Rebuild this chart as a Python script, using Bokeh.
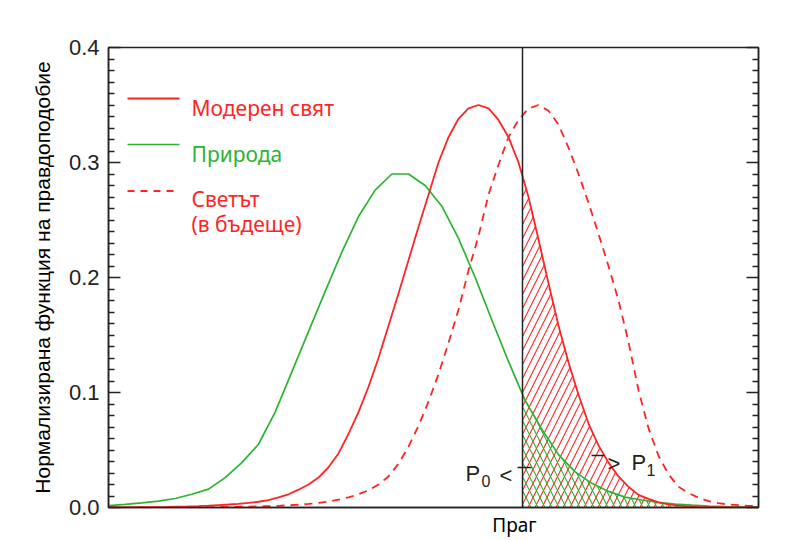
import numpy as np
from bokeh.plotting import figure
from bokeh.models import Range1d, LinearAxis, FixedTicker, Span, PrintfTickFormatter
from bokeh.core.properties import value
from bokeh.embed import file_html
from bokeh.resources import INLINE

# ---------------- data (x in arbitrary units, 0..65) ----------------
threshold = 41.4

modern_x = list(range(66))
modern_y = [0.0000, 0.0001, 0.0001, 0.0002, 0.0003, 0.0004, 0.0005, 0.0007, 0.0009, 0.0012,
            0.0016, 0.0021, 0.0026, 0.0032, 0.0040, 0.0050, 0.0065, 0.0088, 0.0115, 0.0155,
            0.0200, 0.0260, 0.0350, 0.0470, 0.0640, 0.0830, 0.1050, 0.1300, 0.1580, 0.1860,
            0.2150, 0.2440, 0.2720, 0.3000, 0.3220, 0.3380, 0.3470, 0.3500, 0.3470, 0.3370,
            0.3220, 0.3000, 0.2700, 0.2330, 0.1950, 0.1580, 0.1260, 0.0980, 0.0730, 0.0540,
            0.0390, 0.0270, 0.0180, 0.0110, 0.0075, 0.0045, 0.0027, 0.0016, 0.0009, 0.0005,
            0.0003, 0.0002, 0.0001, 0.0001, 0.0000, 0.0000]

future_x = list(range(66))
future_y = [0.0000, 0.0000, 0.0000, 0.0000, 0.0001, 0.0001, 0.0001, 0.0001, 0.0002, 0.0002,
            0.0003, 0.0004, 0.0005, 0.0006, 0.0008, 0.0010, 0.0012, 0.0015, 0.0019, 0.0024,
            0.0031, 0.0040, 0.0052, 0.0068, 0.0088, 0.0115, 0.0150, 0.0200, 0.0270, 0.0380,
            0.0530, 0.0710, 0.0920, 0.1160, 0.1430, 0.1720, 0.2060, 0.2360, 0.2720, 0.2980,
            0.3220, 0.3370, 0.3470, 0.3500, 0.3450, 0.3330, 0.3130, 0.2900, 0.2650, 0.2380,
            0.2100, 0.1800, 0.1440, 0.1020, 0.0690, 0.0450, 0.0290, 0.0180, 0.0125, 0.0085,
            0.0055, 0.0038, 0.0026, 0.0020, 0.0015, 0.0010]

nature_x = [k * 65 / 39 for k in range(40)]
nature_y = [0.0017, 0.0028, 0.0040, 0.0055, 0.0078, 0.0115, 0.0160, 0.0260, 0.0390, 0.0550,
            0.0830, 0.1180, 0.1530, 0.1880, 0.2220, 0.2530, 0.2760, 0.2900, 0.2900, 0.2800,
            0.2620, 0.2340, 0.2000, 0.1630, 0.1270, 0.0930, 0.0680, 0.0460, 0.0310, 0.0210,
            0.0140, 0.0090, 0.0065, 0.0045, 0.0030, 0.0020, 0.0013, 0.0008, 0.0005, 0.0003]

y_ticks = [0.0, 0.1, 0.2, 0.3, 0.4]
y_minor = [round(0.01 * i, 2) for i in range(41) if i % 10]

labels = ["Модерен свят", "Природа", "Светът", "(в бъдеще)"]
y_title = "Нормализирана функция на правдоподобие"
x_tick_label = "Праг"
x_tick_pos = threshold - 0.8

RED = "#ff2424"
GREEN = "#2ab432"
INK = "#222222"

# helpers to place decorations by frame pixel
def ux(px):
    return (px - 108) / 10.0

def uy(py):
    return (507 - py) / 1150.0

p = figure(width=796, height=540, output_backend="svg", toolbar_location=None,
           x_range=Range1d(0, 65), y_range=Range1d(0, 0.4),
           min_border_left=108, min_border_right=38, min_border_top=47, min_border_bottom=33)
p.xgrid.visible = False
p.ygrid.visible = False
p.outline_line_color = INK
p.outline_line_width = 1.5
p.background_fill_color = "white"
p.border_fill_color = "white"

# left axis
ya = p.yaxis[0]
ya.ticker = FixedTicker(ticks=y_ticks, minor_ticks=y_minor)
ya.formatter = PrintfTickFormatter(format="%.1f")
ya.major_tick_in = 12
ya.major_tick_out = 0
ya.minor_tick_in = 6
ya.minor_tick_out = 0
ya.axis_line_color = INK
ya.axis_line_width = 1.5
ya.major_tick_line_color = INK
ya.major_tick_line_width = 1.5
ya.minor_tick_line_color = INK
ya.minor_tick_line_width = 1.5
ya.major_label_standoff = 9
ya.major_label_text_font = "Liberation Sans"
ya.major_label_text_font_size = "22px"
ya.major_label_text_color = INK
ya.axis_label = y_title
ya.axis_label_text_font = "Liberation Sans"
ya.axis_label_text_font_size = "21px"
ya.axis_label_text_font_style = "normal"
ya.axis_label_text_color = "black"
ya.axis_label_standoff = 12

# right axis (ticks only)
ra = LinearAxis(ticker=FixedTicker(ticks=y_ticks, minor_ticks=y_minor),
                major_tick_in=12, major_tick_out=0, minor_tick_in=6, minor_tick_out=0,
                axis_line_color=INK, axis_line_width=1.5,
                major_tick_line_color=INK, major_tick_line_width=1.5,
                minor_tick_line_color=INK, minor_tick_line_width=1.5,
                major_label_text_color=None, major_label_standoff=0)
p.add_layout(ra, "right")

# bottom axis
xa = p.xaxis[0]
xa.ticker = FixedTicker(ticks=[x_tick_pos], minor_ticks=[])
xa.major_label_overrides = {x_tick_pos: x_tick_label}
xa.major_tick_in = 0
xa.major_tick_out = 0
xa.minor_tick_in = 0
xa.minor_tick_out = 0
xa.axis_line_color = INK
xa.axis_line_width = 1.5
xa.major_label_standoff = 4
xa.major_label_text_font = "Noto Sans"
xa.major_label_text_font_size = "19px"
xa.major_label_text_color = "black"

# hatched tails beyond the threshold
mx = np.array(modern_x, dtype=float)
my = np.array(modern_y)
sel = mx > threshold
hx_r = np.concatenate([[threshold], mx[sel]])
hy_r = np.concatenate([[np.interp(threshold, mx, my)], my[sel]])
p.varea(x=hx_r, y1=0, y2=hy_r, fill_color=None, fill_alpha=0,
        hatch_pattern="/", hatch_color=RED, hatch_scale=14, hatch_weight=1.1)

nx = np.array(nature_x)
ny = np.array(nature_y)
sel = nx > threshold
hx_g = np.concatenate([[threshold], nx[sel]])
hy_g = np.concatenate([[np.interp(threshold, nx, ny)], ny[sel]])
p.varea(x=hx_g, y1=0, y2=hy_g, fill_color=None, fill_alpha=0,
        hatch_pattern="\\", hatch_color=GREEN, hatch_scale=14, hatch_weight=1.1)

# curves
p.line(nature_x, nature_y, line_color=GREEN, line_width=1.7)
p.line(future_x, future_y, line_color=RED, line_width=1.8, line_dash="8 6")
p.line(modern_x, modern_y, line_color=RED, line_width=1.8)

# threshold
p.add_layout(Span(location=threshold, dimension="height", line_color=INK, line_width=1.5))

# legend (hand drawn)
p.line([ux(127), ux(179)], [uy(98)] * 2, line_color=RED, line_width=1.8)
p.line([ux(127), ux(179)], [uy(144)] * 2, line_color=GREEN, line_width=1.7)
p.line([ux(127), ux(179)], [uy(190.5)] * 2, line_color=RED, line_width=1.8, line_dash="7 6")
lf = value("Noto Sans")
p.text(x=[ux(191)], y=[uy(107)], text=[labels[0]], text_color=RED, text_font=lf,
       text_font_size="21px", text_baseline="alphabetic")
p.text(x=[ux(191)], y=[uy(153.5)], text=[labels[1]], text_color=GREEN, text_font=lf,
       text_font_size="21px", text_baseline="alphabetic")
p.text(x=[ux(191)], y=[uy(198.5)], text=[labels[2]], text_color=RED, text_font=lf,
       text_font_size="21px", text_baseline="alphabetic")
p.text(x=[ux(191)], y=[uy(223.5)], text=[labels[3]], text_color=RED, text_font=lf,
       text_font_size="21px", text_baseline="alphabetic")

# P0 / P1 annotations
af = value("Liberation Sans")
p.text(x=[ux(465)], y=[uy(473)], text=["P"], text_color=INK, text_font=af,
       text_font_size="22px", text_baseline="alphabetic")
p.text(x=[ux(481)], y=[uy(480)], text=["0"], text_color=INK, text_font=af,
       text_font_size="16px", text_baseline="alphabetic")
p.text(x=[ux(499)], y=[uy(475)], text=["<"], text_color=INK, text_font=af,
       text_font_size="22px", text_baseline="alphabetic")
p.line([ux(517), ux(531)], [uy(467)] * 2, line_color=INK, line_width=1.5)

p.line([ux(591), ux(604)], [uy(455)] * 2, line_color=INK, line_width=1.5)
p.text(x=[ux(607)], y=[uy(463)], text=[">"], text_color=INK, text_font=af,
       text_font_size="22px", text_baseline="alphabetic")
p.text(x=[ux(631)], y=[uy(462)], text=["P"], text_color=INK, text_font=af,
       text_font_size="22px", text_baseline="alphabetic")
p.text(x=[ux(646)], y=[uy(469)], text=["1"], text_color=INK, text_font=af,
       text_font_size="16px", text_baseline="alphabetic")

open("out.html", "w").write(file_html(p, INLINE))
